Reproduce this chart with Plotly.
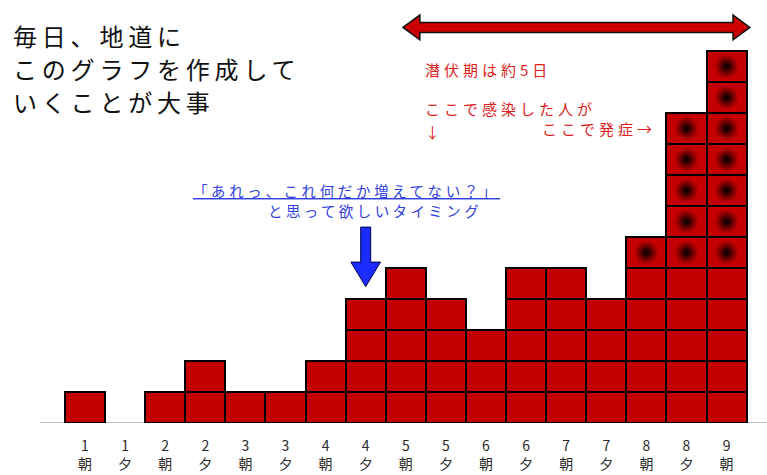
import plotly.graph_objects as go

# ---- data ----
days = ["1", "1", "2", "2", "3", "3", "4", "4", "5", "5", "6", "6", "7", "7", "8", "8", "9"]
times = ["朝", "夕", "朝", "夕", "朝", "夕", "朝", "夕", "朝", "夕", "朝", "夕", "朝", "夕", "朝", "夕", "朝"]
counts = [1, 0, 1, 2, 1, 1, 2, 4, 5, 4, 3, 5, 5, 4, 6, 10, 12]
marked = [0, 0, 0, 0, 0, 0, 0, 0, 0, 0, 0, 0, 0, 0, 1, 5, 7]

categories = [d + t for d, t in zip(days, times)]
ticktext = [f"{d}<br>{t}" for d, t in zip(days, times)]

W, H = 767, 475
PLOT_H = 423
FONT = "Noto Sans CJK JP"

def pxx(px):
    return px / W

def pxy(py):
    return (PLOT_H - py) / PLOT_H

# squares: one bar per case
bx, bbase, by = [], [], []
for c, n in zip(categories, counts):
    for k in range(n):
        bx.append(c)
        bbase.append(k)
        by.append(1)

# dots on the top squares
dx, dy = [], []
for c, n, m in zip(categories, counts, marked):
    for k in range(n - m, n):
        dx.append(c)
        dy.append(k + 0.5)

fig = go.Figure()
fig.add_trace(go.Bar(
    x=bx, y=by, base=bbase, width=1,
    marker=dict(color="#c40000", line=dict(color="#000000", width=2)),
    hoverinfo="skip", showlegend=False,
))
fig.add_trace(go.Scatter(
    x=dx, y=dy, mode="markers",
    marker=dict(size=24, color="#c40000", line=dict(width=0),
                gradient=dict(type="radial", color="#0a0000")),
    hoverinfo="skip", showlegend=False,
))
fig.add_trace(go.Scatter(
    x=dx, y=dy, mode="markers",
    marker=dict(size=11, color="rgba(40,0,0,0)", line=dict(width=0),
                gradient=dict(type="radial", color="rgba(10,0,0,0.8)")),
    hoverinfo="skip", showlegend=False,
))

shapes = []
# baseline
shapes.append(dict(type="line", xref="paper", yref="y", x0=pxx(40), x1=1, y0=0, y1=0,
                   line=dict(color="#888888", width=1), layer="below"))

# red double arrow (data units)
xl, xr = 7.93, 16.58
hl = 0.42
yc, sh, hh = 12.76, 0.16, 0.40
path = (f"M {xl},{yc} L {xl+hl},{yc+hh} L {xl+hl},{yc+sh} L {xr-hl},{yc+sh} "
        f"L {xr-hl},{yc+hh} L {xr},{yc} L {xr-hl},{yc-hh} L {xr-hl},{yc-sh} "
        f"L {xl+hl},{yc-sh} L {xl+hl},{yc-hh} Z")
shapes.append(dict(type="path", xref="x", yref="y", path=path,
                   fillcolor="#cc0000", line=dict(color="#111111", width=1.5)))

# blue down arrow above 4夕
bxc = categories.index("4夕")
sw, hw = 0.125, 0.37
ytop, yhead, ytip = 6.32, 5.19, 4.40
bpath = (f"M {bxc-sw},{ytop} L {bxc+sw},{ytop} L {bxc+sw},{yhead} L {bxc+hw},{yhead} "
         f"L {bxc},{ytip} L {bxc-hw},{yhead} L {bxc-sw},{yhead} Z")
shapes.append(dict(type="path", xref="x", yref="y", path=bpath,
                   fillcolor="#1a2cff", line=dict(color="#000044", width=1)))

def ann(text, x, y, size, color, xanchor="left", yanchor="middle", spacing=0, extra=""):
    style = f"letter-spacing:{spacing}px;{extra}"
    return dict(text=f'<span style="{style}">{text}</span>', x=x, y=y, xref="paper", yref="paper",
                xanchor=xanchor, yanchor=yanchor, align="left", showarrow=False,
                font=dict(family=FONT, size=size, color=color))

annotations = [
    ann("毎日、地道に", pxx(11), pxy(35), 24, "#111111", spacing=4.8),
    ann("このグラフを作成して", pxx(11), pxy(68), 24, "#111111", spacing=4.8),
    ann("いくことが大事", pxx(11), pxy(101), 24, "#111111", spacing=4.8),
    ann("潜伏期は約5日", pxx(423), pxy(69), 15, "#dd1c1c", spacing=4),
    ann("ここで感染した人が", pxx(423), pxy(108), 15, "#dd1c1c", spacing=4),
    ann("↓", pxx(433), pxy(131), 15, "#dd1c1c", xanchor="center"),
    ann("ここで発症→", pxx(540), pxy(128), 15, "#dd1c1c", spacing=4),
    ann("「あれっ、これ何だか増えてない？」", pxx(191), pxy(190), 14.5, "#3040e0", spacing=3.6,
        extra="text-decoration:underline"),
    ann("と思って欲しいタイミング", pxx(266), pxy(210), 14.5, "#3040e0", spacing=3.4),
]

fig.update_layout(
    width=W, height=H,
    margin=dict(l=0, r=0, t=0, b=H - PLOT_H, pad=0),
    paper_bgcolor="#ffffff", plot_bgcolor="#ffffff",
    barmode="overlay", bargap=0,
    shapes=shapes, annotations=annotations,
    xaxis=dict(type="category", categoryorder="array", categoryarray=categories,
               range=[-85 / 40.1, (W - 85) / 40.1],
               tickvals=categories, ticktext=ticktext, ticks="",
               ticklabelstandoff=13,
               showgrid=False, zeroline=False, showline=False,
               tickfont=dict(family=FONT, size=14, color="#2a2a2a")),
    yaxis=dict(range=[0, PLOT_H / 31], visible=False, showgrid=False, zeroline=False),
    showlegend=False,
)

fig.write_html("out.html")
